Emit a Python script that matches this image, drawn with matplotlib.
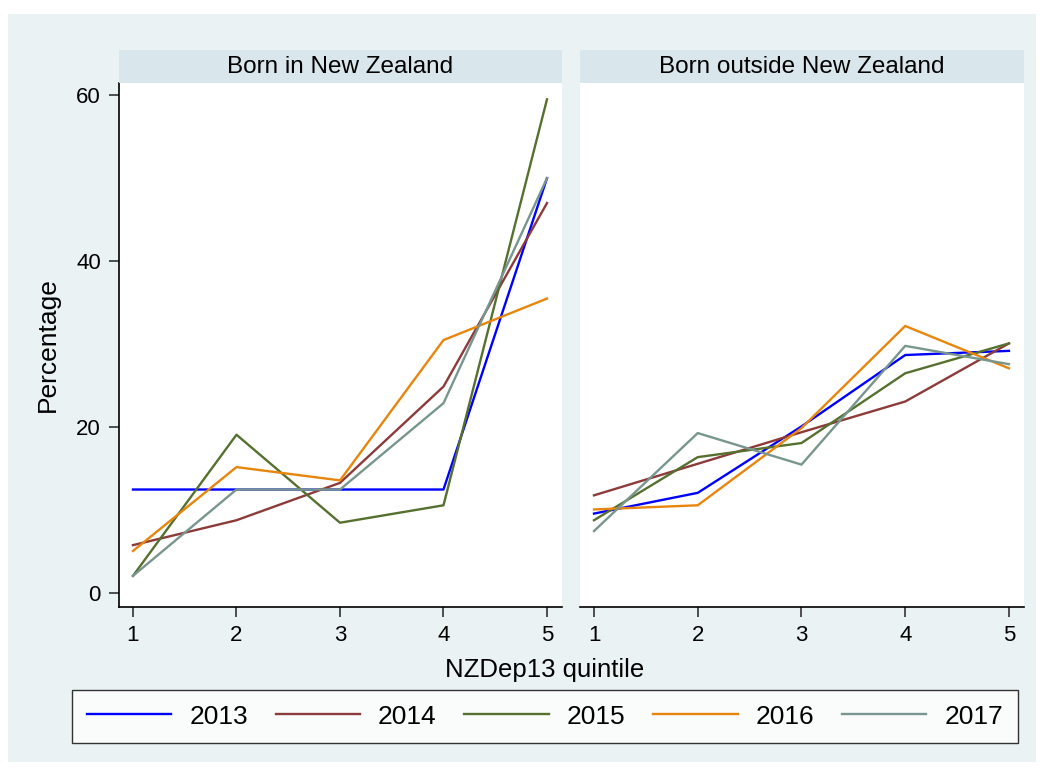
#!/usr/bin/env python3
"""Percentage by NZDep13 quintile, born in / outside New Zealand, 2013-2017."""

import matplotlib
matplotlib.use("Agg")
import matplotlib.pyplot as plt
from matplotlib.patches import Rectangle

plt.rcParams["font.family"] = ["Liberation Sans", "DejaVu Sans"]

quintiles = [1, 2, 3, 4, 5]
years = ["2013", "2014", "2015", "2016", "2017"]

# Born in New Zealand
nz_2013 = [12.5, 12.5, 12.5, 12.5, 50.0]
nz_2014 = [5.8, 8.8, 13.3, 24.9, 47.0]
nz_2015 = [2.1, 19.1, 8.5, 10.6, 59.5]
nz_2016 = [5.1, 15.2, 13.6, 30.5, 35.5]
nz_2017 = [2.1, 12.5, 12.5, 22.9, 50.0]

# Born outside New Zealand
os_2013 = [9.6, 12.1, 20.1, 28.7, 29.2]
os_2014 = [11.8, 15.6, 19.4, 23.1, 30.1]
os_2015 = [8.8, 16.4, 18.1, 26.5, 30.1]
os_2016 = [10.1, 10.6, 19.9, 32.2, 27.1]
os_2017 = [7.5, 19.3, 15.5, 29.8, 27.6]

COLORS = ["#0000ff", "#8c3a3a", "#55702f", "#e8850c", "#78968e"]
BG = "#eaf2f3"
STRIP = "#d9e6eb"

W, H = 1044, 769


def px_axes(fig, x0, y0, x1, y1, **kw):
    # pixel box (top-left origin) -> figure axes
    return fig.add_axes([x0 / W, 1 - y1 / H, (x1 - x0) / W, (y1 - y0) / H], **kw)


fig = plt.figure(figsize=(W / 100, H / 100), dpi=100, facecolor="white")
fig.patches.append(Rectangle((8 / W, 1 - 762 / H), 1028 / W, 748 / H,
                             transform=fig.transFigure, facecolor=BG,
                             edgecolor="none", zorder=-10))

panels = [
    ("Born in New Zealand", 119, 562, [nz_2013, nz_2014, nz_2015, nz_2016, nz_2017]),
    ("Born outside New Zealand", 580, 1024, [os_2013, os_2014, os_2015, os_2016, os_2017]),
]

for i, (title, x0, x1, series) in enumerate(panels):
    ax = px_axes(fig, x0, 82.7, x1, 607)
    ax.set_facecolor("white")
    for vals, color, year in zip(series, COLORS, years):
        ax.plot(quintiles, vals, color=color, linewidth=1.7, label=year)
    ax.set_xlim(0.865, 5.145)
    ax.set_ylim(-1.65, 61.5)
    ax.set_xticks(quintiles)
    ax.set_yticks([0, 20, 40, 60])
    for s in ["top", "right"]:
        ax.spines[s].set_visible(False)
    ax.spines["bottom"].set_linewidth(1.2)
    ax.spines["left"].set_linewidth(1.2)
    ax.tick_params(labelsize=16, length=7, width=1.2, color="#333333", pad=6)
    if i == 0:
        ax.set_ylabel("Percentage", fontsize=19, labelpad=12)
    else:
        ax.spines["left"].set_visible(False)
        ax.tick_params(axis="y", left=False, labelleft=False)

    sax = px_axes(fig, x0, 50, x1, 82.7)
    sax.set_facecolor(STRIP)
    sax.set_xticks([])
    sax.set_yticks([])
    for s in sax.spines.values():
        s.set_visible(False)
    sax.text(0.5, 0.48, title, ha="center", va="center", fontsize=17.5,
             transform=sax.transAxes)

fig.text(545 / W, 1 - 670 / H, "NZDep13 quintile", ha="center", va="center", fontsize=18.5)

handles, labels = ax.get_legend_handles_labels()
leg = fig.legend(handles, labels, loc="center", ncol=5,
                 bbox_to_anchor=(545 / W, 1 - 716.5 / H),
                 fontsize=19, handlelength=3.2, handletextpad=0.68,
                 columnspacing=1.05, frameon=True, fancybox=False,
                 borderpad=0.55)
leg.get_frame().set_edgecolor("black")
leg.get_frame().set_linewidth(1.0)
leg.get_frame().set_facecolor("white")

fig.savefig("out.png", dpi=100, facecolor="white")
